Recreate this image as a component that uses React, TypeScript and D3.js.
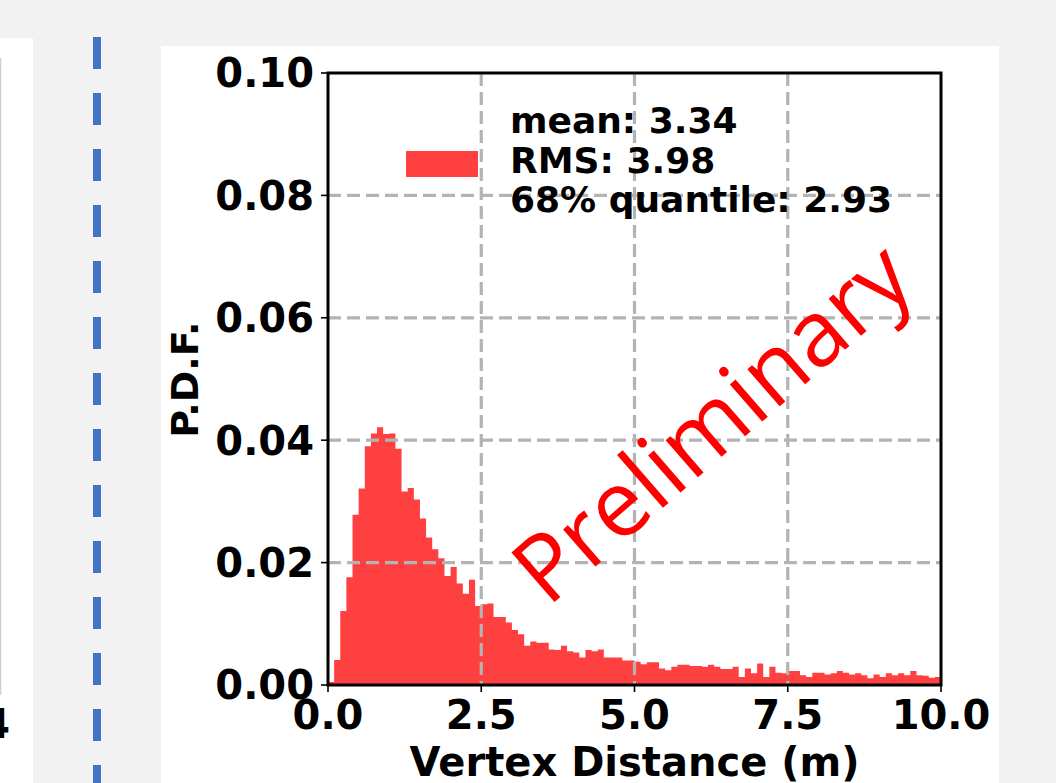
import * as d3 from 'd3';

// histogram: 100 bins of 0.1 m from 0 to 10
const binWidth = 0.1;
const pdfValues = [
    0.0005, 0.0041, 0.0121, 0.0176, 0.0278, 0.0321, 0.039, 0.0411, 0.0421, 0.041,
    0.0411, 0.0386, 0.0316, 0.0322, 0.0303, 0.0272, 0.0241, 0.0222, 0.0207, 0.0178,
    0.0193, 0.0166, 0.0149, 0.0172, 0.0129, 0.0132, 0.0133, 0.0111, 0.0111, 0.0102,
    0.009, 0.0083, 0.0064, 0.0071, 0.0069, 0.0069, 0.0058, 0.0057, 0.0064, 0.0055,
    0.0053, 0.0045, 0.0057, 0.0055, 0.0058, 0.0045, 0.0045, 0.0045, 0.004, 0.004,
    0.0038, 0.0034, 0.0037, 0.0037, 0.0027, 0.0024, 0.003, 0.0033, 0.0033, 0.0031,
    0.0031, 0.003, 0.0033, 0.003, 0.0026, 0.0026, 0.003, 0.0013, 0.0027, 0.0019,
    0.0035, 0.0013, 0.003, 0.002, 0.0019, 0.0023, 0.0023, 0.0016, 0.0013, 0.002,
    0.002, 0.0017, 0.0019, 0.0023, 0.002, 0.0017, 0.0019, 0.0016, 0.0011, 0.0017,
    0.0013, 0.0019, 0.0016, 0.0019, 0.0016, 0.0023, 0.0016, 0.0015, 0.0012, 0.0013,
];

const xTicks = [0, 2.5, 5, 7.5, 10];
const yTicks = [0, 0.02, 0.04, 0.06, 0.08, 0.1];
const legendLines = ['mean: 3.34', 'RMS: 3.98', '68% quantile: 2.93'];

const W = 1056;
const H = 783;
const plot = { left: 328, right: 941, top: 73, bottom: 685 };
const histColor = '#ff4040';
const gridColor = '#b3b3b3';
const font = '"DejaVu Sans", sans-serif';

export default function App() {
    const x = d3.scaleLinear().domain([0, 10]).range([plot.left, plot.right]);
    const y = d3.scaleLinear().domain([0, 0.1]).range([plot.bottom, plot.top]);

    // step outline of the histogram as one closed path (no seams between bins)
    const p = d3.path();
    p.moveTo(x(0), y(0));
    pdfValues.forEach((v, i) => {
        p.lineTo(x(i * binWidth), y(v));
        p.lineTo(x((i + 1) * binWidth), y(v));
    });
    p.lineTo(x(pdfValues.length * binWidth), y(0));
    p.closePath();

    return (
        <div style={{ position: 'fixed', left: 0, top: 0, width: W, height: H }}>
            <svg width={W} height={H} style={{ display: 'block' }}>
                <rect width={W} height={H} fill="#f2f2f2" />

                {/* neighbouring slide content */}
                <rect x={0} y={38} width={33} height={H - 38} fill="#fff" />
                <line x1={0.5} x2={0.5} y1={58} y2={695} stroke="#d0d0d0" strokeWidth={1.5} />
                <text x={10} y={738} textAnchor="end" fontFamily={font} fontWeight="bold" fontSize={40}>
                    4
                </text>
                <line
                    x1={97}
                    x2={97}
                    y1={37}
                    y2={H}
                    stroke="#4472c4"
                    strokeWidth={8}
                    strokeDasharray="32 24"
                />

                <rect x={161} y={46} width={838} height={H - 46} fill="#fff" />

                {/* bars */}
                <path d={p.toString()} fill={histColor} />

                {/* grid */}
                <g stroke={gridColor} strokeWidth={3.2} strokeDasharray="13 6">
                    {xTicks.slice(1, -1).map((t) => (
                        <line key={'gx' + t} x1={x(t)} x2={x(t)} y1={plot.top} y2={plot.bottom} />
                    ))}
                    {yTicks.slice(1, -1).map((t) => (
                        <line key={'gy' + t} x1={plot.left} x2={plot.right} y1={y(t)} y2={y(t)} />
                    ))}
                </g>

                {/* ticks */}
                <g stroke="#000" strokeWidth={1.6}>
                    {xTicks.map((t) => (
                        <line key={'tx' + t} x1={x(t)} x2={x(t)} y1={plot.bottom} y2={plot.bottom + 7} />
                    ))}
                    {yTicks.map((t) => (
                        <line key={'ty' + t} x1={plot.left - 7} x2={plot.left} y1={y(t)} y2={y(t)} />
                    ))}
                </g>
                <rect
                    x={plot.left}
                    y={plot.top}
                    width={plot.right - plot.left}
                    height={plot.bottom - plot.top}
                    fill="none"
                    stroke="#000"
                    strokeWidth={3}
                />

                <g fontFamily={font} fontWeight="bold" fontSize={40} fill="#000">
                    {xTicks.map((t) => (
                        <text key={'lx' + t} x={x(t)} y={plot.bottom + 44} textAnchor="middle">
                            {t.toFixed(1)}
                        </text>
                    ))}
                    {yTicks.map((t) => (
                        <text key={'ly' + t} x={plot.left - 14} y={y(t)} dy="0.36em" textAnchor="end">
                            {t.toFixed(2)}
                        </text>
                    ))}
                </g>

                <text
                    x={(plot.left + plot.right) / 2}
                    y={776}
                    textAnchor="middle"
                    fontFamily={font}
                    fontWeight="bold"
                    fontSize={40}
                >
                    Vertex Distance (m)
                </text>
                <text
                    transform={`translate(198,${y(0.0499)}) rotate(-90)`}
                    textAnchor="middle"
                    fontFamily={font}
                    fontWeight="bold"
                    fontSize={38}
                >
                    P.D.F.
                </text>

                {/* legend */}
                <rect x={406} y={151} width={72} height={26} fill={histColor} />
                <g fontFamily={font} fontWeight="bold" fontSize={36}>
                    {legendLines.map((s, i) => (
                        <text key={s} x={510} y={133 + i * 39.5}>
                            {s}
                        </text>
                    ))}
                </g>

                <text
                    transform="translate(733,447) rotate(-41)"
                    textAnchor="middle"
                    fontFamily='"Open Sans", sans-serif'
                    fontSize={92}
                    fill="#ff0000"
                >
                    Preliminary
                </text>
            </svg>
        </div>
    );
}
